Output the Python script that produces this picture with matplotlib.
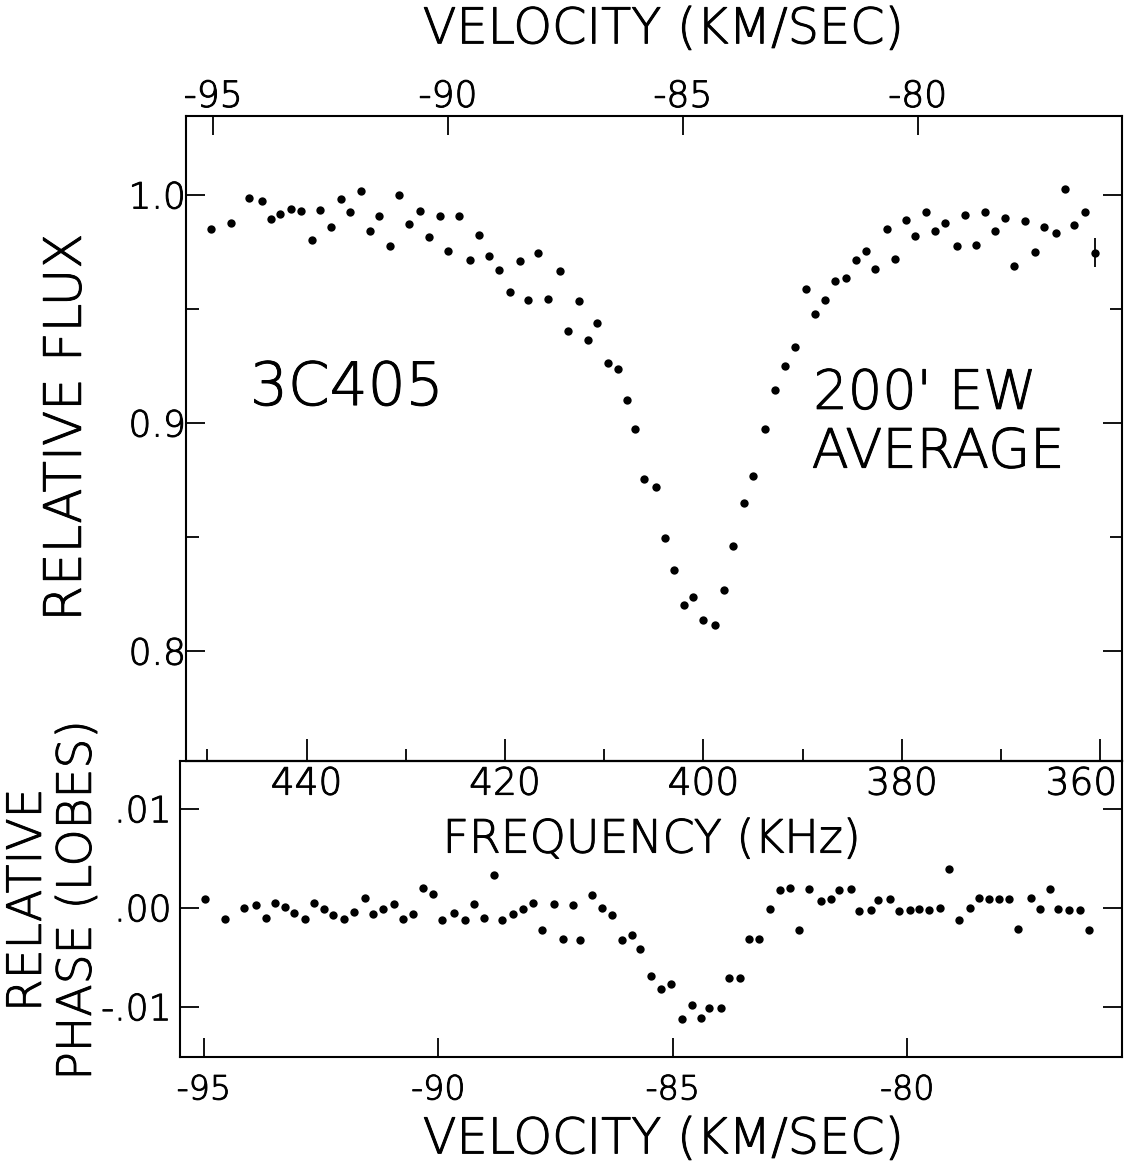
import numpy as np
import matplotlib
matplotlib.use("Agg")
import matplotlib.pyplot as plt
from matplotlib import patheffects
from matplotlib.text import Text
from matplotlib.transforms import ScaledTranslation
from matplotlib.ticker import FuncFormatter, FormatStrFormatter

plt.rcParams['font.family'] = ['DejaVu Sans']
plt.rcParams['font.weight'] = 200
plt.rcParams['axes.labelweight'] = 200
plt.rcParams['axes.unicode_minus'] = False
plt.rcParams['axes.linewidth'] = 1.5

# ---------------- data ----------------
flux_velocity = [
    -95.05, -94.62, -94.23, -93.96, -93.77, -93.57, -93.35, -93.13, -92.90, -92.72,
    -92.49, -92.28, -92.09, -91.86, -91.66, -91.47, -91.24, -91.05, -90.83, -90.60,
    -90.40, -90.17, -90.00, -89.77, -89.54, -89.33, -89.12, -88.92, -88.69, -88.46,
    -88.29, -88.08, -87.87, -87.61, -87.44, -87.22, -87.02, -86.82, -86.60, -86.38,
    -86.18, -86.02, -85.82, -85.57, -85.38, -85.19, -84.98, -84.79, -84.56, -84.32,
    -84.13, -83.93, -83.69, -83.50, -83.25, -83.03, -82.82, -82.62, -82.37, -82.19,
    -81.97, -81.77, -81.52, -81.32, -81.09, -80.90, -80.66, -80.48, -80.25, -80.06,
    -79.82, -79.63, -79.42, -79.17, -79.00, -78.75, -78.56, -78.36, -78.13, -77.95,
    -77.71, -77.51, -77.31, -77.06, -76.86, -76.67, -76.43]
relative_flux = [
    0.9850, 0.9876, 0.9987, 0.9975, 0.9895, 0.9918, 0.9940, 0.9930, 0.9804, 0.9933,
    0.9858, 0.9981, 0.9927, 1.0016, 0.9841, 0.9907, 0.9778, 1.0000, 0.9873, 0.9930,
    0.9817, 0.9907, 0.9753, 0.9909, 0.9716, 0.9825, 0.9734, 0.9672, 0.9573, 0.9711,
    0.9538, 0.9744, 0.9543, 0.9668, 0.9402, 0.9536, 0.9365, 0.9439, 0.9264, 0.9238,
    0.9102, 0.8972, 0.8754, 0.8719, 0.8497, 0.8354, 0.8200, 0.8238, 0.8135, 0.8113,
    0.8268, 0.8462, 0.8651, 0.8766, 0.8974, 0.9145, 0.9251, 0.9335, 0.9587, 0.9476,
    0.9539, 0.9622, 0.9637, 0.9714, 0.9755, 0.9675, 0.9852, 0.9719, 0.9890, 0.9822,
    0.9923, 0.9843, 0.9875, 0.9777, 0.9914, 0.9780, 0.9927, 0.9840, 0.9901, 0.9690,
    0.9885, 0.9749, 0.9859, 0.9834, 1.0028, 0.9868, 0.9927]

errbar_velocity = [-76.22]
errbar_flux = [0.9747]
errbar_size = [0.0065]

phase_velocity = [
    -94.98, -94.56, -94.15, -93.89, -93.67, -93.48, -93.27, -93.07, -92.85, -92.65,
    -92.44, -92.24, -92.01, -91.80, -91.56, -91.39, -91.18, -90.95, -90.75, -90.55,
    -90.33, -90.11, -89.93, -89.67, -89.43, -89.25, -89.03, -88.81, -88.64, -88.41,
    -88.20, -87.99, -87.78, -87.53, -87.34, -87.13, -86.98, -86.72, -86.52, -86.29,
    -86.08, -85.88, -85.69, -85.46, -85.26, -85.03, -84.81, -84.60, -84.40, -84.23,
    -83.97, -83.80, -83.56, -83.38, -83.16, -82.93, -82.71, -82.50, -82.30, -82.09,
    -81.84, -81.63, -81.45, -81.21, -81.03, -80.78, -80.62, -80.37, -80.17, -79.95,
    -79.75, -79.53, -79.30, -79.11, -78.89, -78.66, -78.47, -78.26, -78.05, -77.83,
    -77.63, -77.37, -77.17, -76.96, -76.79, -76.55, -76.32, -76.12]
relative_phase = [
    0.00088, -0.00117, -0.00006, 0.00030, -0.00101, 0.00051, 0.00004, -0.00051, -0.00117, 0.00047,
    -0.00010, -0.00074, -0.00117, -0.00046, 0.00095, -0.00061, -0.00016, 0.00040, -0.00111, -0.00064,
    0.00196, 0.00135, -0.00124, -0.00054, -0.00124, 0.00040, -0.00107, 0.00333, -0.00124, -0.00064,
    -0.00016, 0.00047, -0.00225, 0.00034, -0.00319, 0.00027, -0.00326, 0.00128, -0.00003, -0.00074,
    -0.00329, -0.00279, -0.00412, -0.00687, -0.00821, -0.00768, -0.01124, -0.00980, -0.01117, -0.01010,
    -0.01016, -0.00707, -0.00707, -0.00319, -0.00316, -0.00016, 0.00182, 0.00196, -0.00225, 0.00186,
    0.00071, 0.00088, 0.00182, 0.00189, -0.00030, -0.00023, 0.00081, 0.00091, -0.00036, -0.00020,
    -0.00013, -0.00023, -0.00003, 0.00388, -0.00121, -0.00006, 0.00098, 0.00088, 0.00085, 0.00085,
    -0.00215, 0.00098, -0.00016, 0.00192, -0.00010, -0.00020, -0.00026, -0.00228]

velocity_ticks = [-95, -90, -85, -80]
frequency_major_ticks = [360, 380, 400, 420, 440]
frequency_minor_ticks = [370, 390, 410, 430, 450]
flux_ticks = [0.8, 0.9, 1.0]
flux_minor_ticks = [0.85, 0.95]
phase_ticks = [-0.01, 0.0, 0.01]

# velocity <-> frequency offset relation (21 cm line, ~4.73 kHz per km/s)
F_REF, V_REF, KMS_PER_KHZ = 400.0, -84.56, 0.2113


def v2f(v):
    return F_REF - (np.asarray(v, dtype=float) - V_REF) / KMS_PER_KHZ


def f2v(f):
    return V_REF - (np.asarray(f, dtype=float) - F_REF) * KMS_PER_KHZ


fig = plt.figure(figsize=(11.27, 11.66), dpi=100)
ax1 = fig.add_axes([0.1650, 0.3473, 0.8305, 0.5532])
ax2 = fig.add_axes([0.1597, 0.0937, 0.8359, 0.2536])
ax2.patch.set_alpha(0)

MS = 6.0

# ---------------- top panel ----------------
ax1.plot(flux_velocity, relative_flux, 'o', color='black', ms=MS, mew=0)
ax1.errorbar(errbar_velocity, errbar_flux, yerr=errbar_size, fmt='o', color='black',
             ms=MS, mew=0, capsize=3.6, elinewidth=1.3, capthick=1.3)
ax1.set_xlim(-95.58, -75.65)
ax1.set_ylim(0.7518, 1.0346)

ax1.xaxis.set_ticks_position('top')
ax1.xaxis.set_label_position('top')
ax1.set_xticks(velocity_ticks)
ax1.xaxis.set_major_formatter(FormatStrFormatter('%d'))
ax1.tick_params(axis='x', which='major', direction='in', length=14, width=1.3,
                labelsize=26, pad=1.5, top=True, bottom=False,
                labeltop=True, labelbottom=False)

ax1.set_yticks(flux_ticks)
ax1.set_yticks(flux_minor_ticks, minor=True)
ax1.yaxis.set_major_formatter(FormatStrFormatter('%.1f'))
ax1.tick_params(axis='y', which='both', direction='in', left=True, right=True,
                labelsize=26, pad=0, width=1.3)
ax1.tick_params(axis='y', which='major', length=14)
ax1.tick_params(axis='y', which='minor', length=9)

secax = ax1.secondary_xaxis('bottom', functions=(v2f, f2v))
secax.set_xticks(frequency_major_ticks)
secax.set_xticks(frequency_minor_ticks, minor=True)
secax.xaxis.set_major_formatter(FormatStrFormatter('%d'))
secax.tick_params(which='both', direction='in', width=1.3, labelsize=27, pad=4)
secax.tick_params(which='major', length=16)
secax.tick_params(which='minor', length=8.5)
secax.set_xlabel('FREQUENCY (KHz)', fontsize=33)
secax.xaxis.set_label_coords(0.4979, -0.1419, transform=ax1.transAxes)
secax.xaxis.label.set_va('baseline')

ax1.set_xlabel('VELOCITY (KM/SEC)', fontsize=35.5)
ax1.xaxis.set_label_coords(0.5096, 1.1127)
ax1.xaxis.label.set_va('baseline')

ax1.set_ylabel('RELATIVE FLUX', fontsize=37)
ax1.yaxis.set_label_coords(-0.1124, 0.5171)
ax1.yaxis.label.set_va('baseline')

ax1.text(0.0684, 0.5519, '3C405', transform=ax1.transAxes, fontsize=43,
         ha='left', va='baseline')
ax1.text(0.6703, 0.5460, "200' EW", transform=ax1.transAxes, fontsize=39,
         ha='left', va='baseline')
ax1.text(0.6686, 0.4549, 'AVERAGE', transform=ax1.transAxes, fontsize=39,
         ha='left', va='baseline')

# ---------------- bottom panel ----------------
ax2.plot(phase_velocity, relative_phase, 'o', color='black', ms=MS, mew=0)
ax2.set_xlim(-95.51, -75.42)
ax2.set_ylim(-0.01505, 0.01482)

ax2.set_xticks(velocity_ticks)
ax2.xaxis.set_major_formatter(FormatStrFormatter('%d'))
ax2.tick_params(axis='x', direction='in', length=14, width=1.3, labelsize=24,
                pad=12, top=False)


def phase_fmt(y, _):
    if abs(y) < 1e-9:
        y = 0.0
    return f"{y:.2f}".replace("0.", ".", 1)


ax2.set_yticks(phase_ticks)
ax2.yaxis.set_major_formatter(FuncFormatter(phase_fmt))
ax2.tick_params(axis='y', direction='in', length=14, width=1.3, left=True,
                right=True, labelsize=26, pad=6)

ax2.set_xlabel('VELOCITY (KM/SEC)', fontsize=35.5)
ax2.xaxis.set_label_coords(0.5127, -0.3267)
ax2.xaxis.label.set_va('baseline')

ax2.set_ylabel('RELATIVE\nPHASE (LOBES)', fontsize=34, linespacing=1.17)
ax2.yaxis.set_label_coords(-0.1010, 0.530)
ax2.yaxis.label.set_va('baseline')

# ---------------- finishing touches ----------------
fig.canvas.draw()
stroke = [patheffects.withStroke(linewidth=0.7, foreground='black')]
for t in fig.findobj(Text):
    t.set_path_effects(stroke)

# the right-most frequency label sits inside the frame, as in the original
for lbl in secax.xaxis.get_majorticklabels():
    if lbl.get_text() == '360':
        lbl.set_transform(lbl.get_transform() +
                          ScaledTranslation(-0.19, 0, fig.dpi_scale_trans))

fig.savefig('out.png', dpi=100)
